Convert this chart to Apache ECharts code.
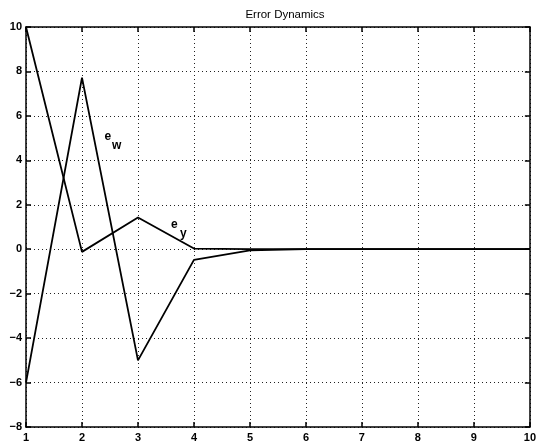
<!DOCTYPE html>
<html>
<head>
<meta charset="utf-8">
<script src="https://cdn.jsdelivr.net/npm/echarts@6/dist/echarts.min.js"></script>
<style>html,body{margin:0;padding:0;background:#fff;}#c{width:539px;height:443px;}</style>
</head>
<body>
<div id="c"></div>
<script>
var xValues = [1, 2, 3, 4, 5, 6, 7, 8, 9, 10];
var seriesA = [10, -0.12, 1.43, 0.03, 0, 0, 0, 0, 0, 0];
var seriesB = [-6, 7.72, -5.0, -0.48, -0.05, 0, 0, 0, 0, 0];
var labelW = {main: 'e', sub: 'w', x: 2.46, y: 5.05};
var labelY = {main: 'e', sub: 'y', x: 3.65, y: 1.1};
var titleText = 'Error Dynamics';

function pairs(xs, ys) { return xs.map(function (x, i) { return [x, ys[i]]; }); }
function fmt(v) { return String(v).replace('-', '\u2212'); }

var chart = echarts.init(document.getElementById('c'), null, {renderer: 'canvas'});
var font = 'Liberation Sans, Arial, Helvetica, sans-serif';
var axisCommon = {
  type: 'value',
  axisLine: {show: true, onZero: false, lineStyle: {color: '#000', width: 1.5}},
  axisTick: {show: true, inside: true, length: 5, lineStyle: {color: '#000', width: 1.5}},
  axisLabel: {color: '#000', fontFamily: font, fontSize: 11, fontWeight: 'bold', formatter: fmt},
  splitLine: {show: true, lineStyle: {color: '#222', width: 1, type: [1, 3]}}
};
var option = {
  animation: false,
  backgroundColor: '#fff',
  title: {text: titleText, left: 280, top: 4, textAlign: 'center',
    textStyle: {fontFamily: font, fontSize: 11.5, fontWeight: 'normal', color: '#000'}},
  grid: {left: 26, right: 6, top: 27, bottom: 15, show: false},
  xAxis: [
    Object.assign({}, axisCommon, {min: 1, max: 10, interval: 1, position: 'bottom',
      axisLabel: Object.assign({}, axisCommon.axisLabel, {margin: 5})}),
    Object.assign({}, axisCommon, {min: 1, max: 10, interval: 1, position: 'top',
      axisLabel: {show: false}, splitLine: {show: false}})
  ],
  yAxis: [
    Object.assign({}, axisCommon, {min: -8, max: 10, interval: 2, position: 'left',
      axisLabel: Object.assign({}, axisCommon.axisLabel, {margin: 4})}),
    Object.assign({}, axisCommon, {min: -8, max: 10, interval: 2, position: 'right',
      axisLabel: {show: false}, splitLine: {show: false}})
  ],
  series: [
    {type: 'line', data: pairs(xValues, seriesA), symbol: 'none',
      lineStyle: {color: '#000', width: 1.8}},
    {type: 'line', data: pairs(xValues, seriesB), symbol: 'none',
      lineStyle: {color: '#000', width: 1.8}}
  ]
};
chart.setOption(option);

function labelGraphics(lab) {
  var p = chart.convertToPixel({gridIndex: 0}, [lab.x, lab.y]);
  return [
    {type: 'text', x: p[0], y: p[1], style: {text: lab.main, fill: '#000',
      font: 'bold 12px ' + font, align: 'center', verticalAlign: 'middle'}},
    {type: 'text', x: p[0] + 9, y: p[1] + 9, style: {text: lab.sub, fill: '#000',
      font: 'bold 12px ' + font, align: 'center', verticalAlign: 'middle'}}
  ];
}
chart.setOption({graphic: labelGraphics(labelW).concat(labelGraphics(labelY))});
</script>
</body>
</html>
